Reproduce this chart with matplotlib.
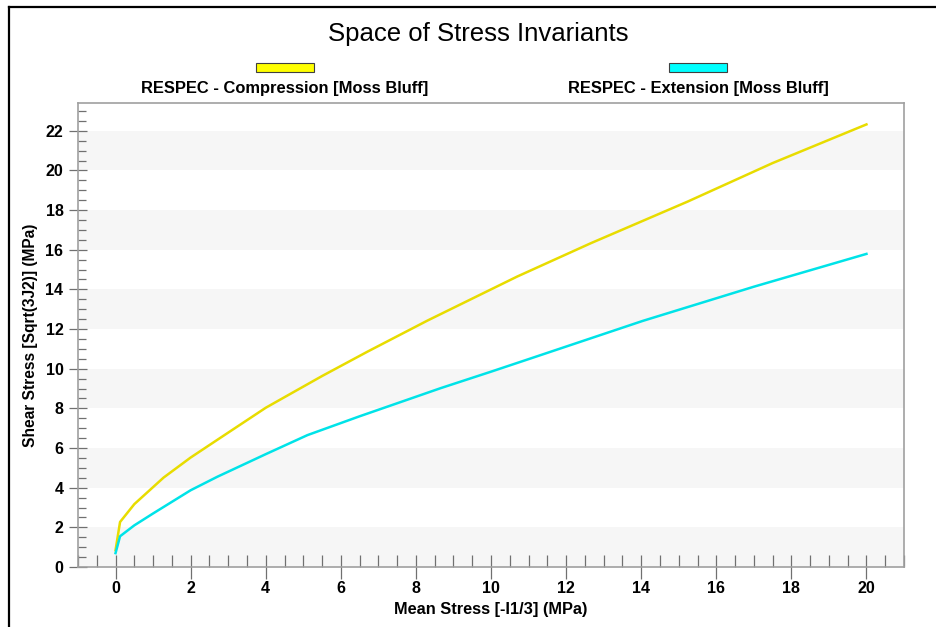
import numpy as np
import matplotlib
matplotlib.use("Agg")
import matplotlib.pyplot as plt
from matplotlib.patches import Rectangle
from matplotlib.lines import Line2D
from matplotlib.ticker import MultipleLocator

plt.rcParams["font.family"] = ["Liberation Sans", "DejaVu Sans"]

# mean stress / shear stress pairs (MPa)
comp_x = [0.0, 0.12, 0.5, 1.28, 2.0, 2.7, 4.0, 4.44, 5.5, 6.7, 8.3, 10.7, 12.66, 15.24, 17.5, 20.0]
comp_y = [0.85, 2.27, 3.17, 4.51, 5.52, 6.40, 8.03, 8.50, 9.63, 10.85, 12.42, 14.65, 16.33, 18.43, 20.37, 22.32]

ext_x = [0.0, 0.12, 0.5, 1.0, 2.0, 2.71, 4.0, 5.11, 6.5, 7.87, 8.66, 10.0, 11.06, 14.04, 17.01, 20.0]
ext_y = [0.7, 1.55, 2.1, 2.7, 3.87, 4.55, 5.69, 6.65, 7.6, 8.50, 9.02, 9.85, 10.52, 12.41, 14.14, 15.79]

series_names = ["RESPEC - Compression [Moss Bluff]", "RESPEC - Extension [Moss Bluff]"]
line_colors = ["#E8DC00", "#00E3E8"]
patch_colors = ["#FFFF00", "#00FFFF"]

W, H = 936, 627
fig = plt.figure(figsize=(W / 100, H / 100), dpi=100)
ax = fig.add_axes([78 / W, 1 - 567 / H, 826 / W, 464 / H])

ax.set_xlim(-1, 21)
ax.set_ylim(0, 23.4)

# alternating horizontal bands
for y0 in range(0, 22, 4):
    ax.axhspan(y0, y0 + 2, color="#F6F6F6", lw=0, zorder=0)

ax.plot(comp_x, comp_y, color=line_colors[0], lw=1.8, zorder=3)
ax.plot(ext_x, ext_y, color=line_colors[1], lw=1.8, zorder=3)

for s in ax.spines.values():
    s.set_color("#A0A0A0")
    s.set_linewidth(1.2)

ax.xaxis.set_major_locator(MultipleLocator(2))
ax.xaxis.set_minor_locator(MultipleLocator(0.5))
ax.yaxis.set_major_locator(MultipleLocator(2))
ax.yaxis.set_minor_locator(MultipleLocator(0.5))
ax.tick_params(axis="x", which="major", direction="inout", length=17, width=0.9,
               color="#707070", pad=1.5, labelsize=11.5)
ax.tick_params(axis="x", which="minor", direction="in", length=8.5, width=0.9, color="#707070")
ax.tick_params(axis="y", which="major", direction="inout", length=13, width=0.9,
               color="#707070", pad=4, labelsize=11.5)
ax.tick_params(axis="y", which="minor", direction="in", length=6, width=0.9, color="#707070")
ax.tick_params(top=False, right=False, which="both")
for lbl in ax.get_xticklabels() + ax.get_yticklabels():
    lbl.set_fontweight("bold")

ax.set_xlabel("Mean Stress [-I1/3] (MPa)", fontsize=11.8, fontweight="bold")
ax.set_ylabel("Shear Stress [Sqrt(3J2)] (MPa)", fontsize=11.2, fontweight="bold")
ax.xaxis.set_label_coords(0.5, -0.076)
ax.yaxis.set_label_coords(-0.048, 0.5)

fig.text(478 / W, 1 - 34 / H, "Space of Stress Invariants", fontsize=18.5,
         ha="center", va="center")

# legend: swatch above each label
for cx, name, pc in zip([285, 698], series_names, patch_colors):
    fig.patches.append(Rectangle(((cx - 29) / W, 1 - 72 / H), 58 / W, 9 / H,
                                 transform=fig.transFigure, facecolor=pc,
                                 edgecolor="#404040", lw=0.8))
    fig.text(cx / W, 1 - 88 / H, name, fontsize=11.9, fontweight="bold",
             ha="center", va="center")

# outer frame
fig.lines.append(Line2D([8.5 / W, 8.5 / W], [0, 1 - 7 / H], transform=fig.transFigure,
                        color="black", lw=1.6))
fig.lines.append(Line2D([8.5 / W, 1], [1 - 7 / H, 1 - 7 / H], transform=fig.transFigure,
                        color="black", lw=1.6))

fig.savefig("out.png", dpi=100)
